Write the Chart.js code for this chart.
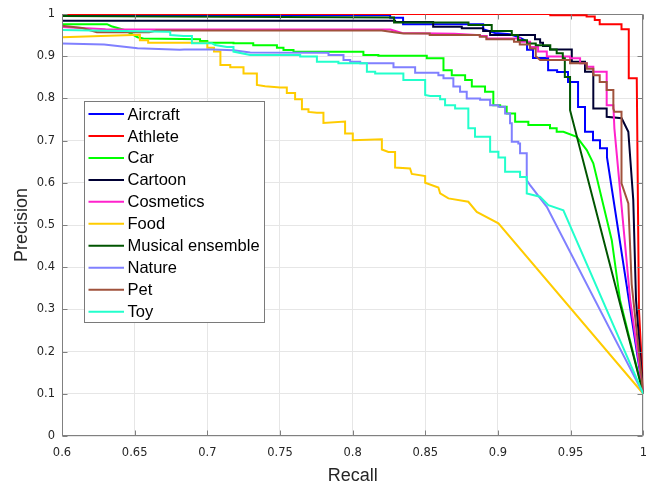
<!DOCTYPE html>
<html>
<head>
<meta charset="utf-8">
<script src="https://cdn.jsdelivr.net/npm/chart.js@4/dist/chart.umd.min.js"></script>
<style>
html,body{margin:0;padding:0;background:#fff;}
canvas{display:block;}
</style>
</head>
<body>
<canvas id="c" width="653" height="487"></canvas>
<script>
// ---- data: [recall, precision] pairs ----
const categories = ['Aircraft','Athlete','Car','Cartoon','Cosmetics','Food','Musical ensemble','Nature','Pet','Toy'];
const seriesColors = ['#0000ff','#ff0000','#00ff00','#000033','#ff22cc','#ffcc00','#005500','#8080ff','#a0523c','#22ffcc'];

const aircraft = [[0.6,0.997],[0.8258,0.997],[0.8258,0.991],[0.8347,0.991],[0.8347,0.976],[0.8898,0.976],[0.8898,0.964],[0.898,0.955],[0.9083,0.952],[0.915,0.944],[0.920,0.935],[0.920,0.915],[0.9241,0.915],[0.9241,0.896],[0.9345,0.896],[0.9345,0.867],[0.9407,0.867],[0.9407,0.8625],[0.9482,0.8625],[0.9482,0.839],[0.9551,0.839],[0.9551,0.7795],[0.9599,0.7795],[0.9599,0.721],[0.9654,0.721],[0.9654,0.701],[0.9702,0.701],[0.9702,0.682],[0.975,0.682],[0.975,0.661],[1,0.1]];
const athlete = [[0.6,1.0],[0.936,1.0],[0.936,0.997],[0.961,0.997],[0.961,0.994],[0.9666,0.994],[0.9666,0.986],[0.970,0.986],[0.970,0.976],[0.985,0.976],[0.985,0.964],[0.990,0.964],[0.990,0.8475],[0.9955,0.8475],[0.997,0.30],[1,0.1]];
const car = [[0.6,0.976],[0.631,0.976],[0.634,0.971],[0.643,0.962],[0.652,0.945],[0.656,0.942],[0.695,0.940],[0.695,0.936],[0.700,0.936],[0.700,0.932],[0.718,0.932],[0.718,0.9305],[0.7316,0.9305],[0.7316,0.926],[0.7479,0.926],[0.7479,0.920],[0.7524,0.920],[0.7524,0.9146],[0.7593,0.9146],[0.7593,0.9106],[0.8074,0.9106],[0.8074,0.903],[0.8177,0.903],[0.8177,0.901],[0.851,0.901],[0.851,0.895],[0.8625,0.895],[0.8625,0.867],[0.8682,0.867],[0.8682,0.855],[0.8774,0.855],[0.8774,0.8435],[0.882,0.8435],[0.882,0.828],[0.8911,0.828],[0.8911,0.816],[0.8968,0.816],[0.8968,0.784],[0.9015,0.784],[0.9015,0.780],[0.906,0.780],[0.906,0.7645],[0.9118,0.7645],[0.9118,0.7446],[0.9209,0.7446],[0.9209,0.737],[0.9358,0.737],[0.9358,0.729],[0.9404,0.729],[0.9404,0.721],[0.945,0.721],[0.9542,0.709],[0.9611,0.6775],[0.9656,0.646],[0.9783,0.464],[0.984,0.322],[1,0.1]];
const cartoon = [[0.6,0.984],[0.8292,0.984],[0.8292,0.981],[0.8554,0.981],[0.8554,0.970],[0.8751,0.970],[0.8751,0.966],[0.8898,0.966],[0.8898,0.960],[0.8946,0.960],[0.8946,0.950],[0.9255,0.950],[0.9255,0.940],[0.929,0.940],[0.929,0.932],[0.931,0.932],[0.931,0.924],[0.9358,0.924],[0.9358,0.916],[0.9508,0.916],[0.9508,0.887],[0.9599,0.887],[0.9599,0.863],[0.9656,0.863],[0.9656,0.776],[0.9748,0.776],[0.9748,0.7565],[0.9851,0.753],[0.9897,0.721],[0.9931,0.559],[0.995,0.322],[1,0.1]];
const cosmetics = [[0.6,0.969],[0.63,0.964],[0.826,0.963],[0.834,0.955],[0.870,0.953],[0.8875,0.950],[0.8875,0.948],[0.8923,0.948],[0.8923,0.942],[0.9152,0.942],[0.9152,0.934],[0.9221,0.934],[0.9221,0.922],[0.9276,0.922],[0.9276,0.911],[0.9336,0.911],[0.9336,0.899],[0.9496,0.899],[0.9496,0.895],[0.9565,0.895],[0.9565,0.883],[0.9611,0.883],[0.9611,0.875],[0.9656,0.875],[0.9656,0.863],[0.9748,0.863],[0.9748,0.784],[0.9794,0.784],[0.9801,0.729],[0.991,0.322],[1,0.1]];
const food = [[0.6,0.945],[0.6536,0.951],[0.6536,0.938],[0.6593,0.938],[0.6593,0.932],[0.700,0.932],[0.700,0.920],[0.7046,0.920],[0.7046,0.911],[0.709,0.911],[0.709,0.879],[0.7158,0.879],[0.7158,0.874],[0.7249,0.874],[0.7249,0.859],[0.7341,0.859],[0.7341,0.832],[0.7398,0.829],[0.7501,0.826],[0.7547,0.826],[0.7547,0.813],[0.7604,0.813],[0.7604,0.798],[0.7651,0.798],[0.7651,0.774],[0.7696,0.774],[0.7696,0.768],[0.7754,0.766],[0.7799,0.766],[0.7799,0.742],[0.7948,0.745],[0.7948,0.717],[0.8001,0.717],[0.8001,0.701],[0.8201,0.703],[0.8201,0.679],[0.8246,0.673],[0.8292,0.673],[0.8292,0.636],[0.8395,0.634],[0.8407,0.621],[0.8499,0.616],[0.8499,0.600],[0.859,0.589],[0.8602,0.575],[0.8659,0.563],[0.8796,0.555],[0.8854,0.531],[0.9003,0.504],[1,0.1]];
const musical = [[0.6,0.995],[0.8285,0.992],[0.8285,0.980],[0.8797,0.980],[0.8797,0.974],[0.8957,0.974],[0.8957,0.960],[0.9095,0.960],[0.9095,0.950],[0.9138,0.950],[0.9138,0.938],[0.920,0.938],[0.920,0.930],[0.926,0.930],[0.926,0.926],[0.936,0.926],[0.936,0.916],[0.9404,0.916],[0.9404,0.907],[0.9446,0.907],[0.9446,0.895],[0.946,0.895],[0.946,0.851],[0.9496,0.851],[0.9496,0.772],[1,0.1]];
const nature = [[0.6,0.930],[0.629,0.928],[0.652,0.919],[0.681,0.915],[0.684,0.916],[0.704,0.916],[0.718,0.914],[0.7295,0.909],[0.7834,0.908],[0.7834,0.903],[0.7937,0.903],[0.7937,0.891],[0.7983,0.891],[0.7983,0.887],[0.8052,0.887],[0.8052,0.883],[0.8281,0.883],[0.8281,0.874],[0.843,0.874],[0.843,0.861],[0.859,0.861],[0.859,0.855],[0.8625,0.855],[0.8625,0.848],[0.8693,0.848],[0.8693,0.828],[0.8739,0.828],[0.8739,0.816],[0.8785,0.816],[0.8785,0.800],[0.8877,0.800],[0.8877,0.797],[0.8946,0.797],[0.8946,0.784],[0.9003,0.784],[0.9003,0.780],[0.9049,0.780],[0.9049,0.7645],[0.9083,0.7645],[0.9083,0.741],[0.9095,0.741],[0.9095,0.697],[0.914,0.697],[0.914,0.693],[0.9152,0.693],[0.9152,0.670],[0.9198,0.670],[0.9198,0.606],[0.9221,0.5945],[0.9336,0.543],[1,0.1]];
const pet = [[0.6,0.972],[0.614,0.967],[0.624,0.957],[0.66,0.957],[0.665,0.961],[0.82,0.961],[0.8285,0.957],[0.835,0.954],[0.853,0.954],[0.853,0.950],[0.8875,0.950],[0.8875,0.946],[0.892,0.946],[0.892,0.940],[0.911,0.940],[0.911,0.934],[0.915,0.934],[0.915,0.928],[0.922,0.928],[0.922,0.918],[0.926,0.918],[0.926,0.900],[0.929,0.891],[0.9496,0.891],[0.9496,0.883],[0.9611,0.883],[0.9611,0.870],[0.9656,0.870],[0.9656,0.855],[0.970,0.855],[0.970,0.839],[0.9748,0.839],[0.9748,0.820],[0.9794,0.820],[0.9794,0.776],[0.9801,0.7685],[0.985,0.7685],[0.985,0.599],[0.9897,0.551],[0.992,0.36],[1,0.1]];
const toy = [[0.6,0.962],[0.6722,0.958],[0.6745,0.958],[0.6745,0.950],[0.6836,0.948],[0.6894,0.948],[0.6894,0.9305],[0.7032,0.9305],[0.7054,0.9265],[0.7135,0.922],[0.718,0.922],[0.718,0.911],[0.7295,0.903],[0.7639,0.903],[0.7639,0.899],[0.7754,0.899],[0.7754,0.887],[0.7902,0.887],[0.7902,0.883],[0.8098,0.883],[0.8098,0.863],[0.8155,0.863],[0.8155,0.859],[0.8349,0.859],[0.8349,0.8435],[0.8499,0.8435],[0.8499,0.808],[0.8533,0.8055],[0.8602,0.8055],[0.8602,0.798],[0.8636,0.798],[0.8636,0.784],[0.8705,0.784],[0.8705,0.776],[0.8796,0.776],[0.8796,0.729],[0.8842,0.729],[0.8842,0.709],[0.8946,0.709],[0.8946,0.6735],[0.9003,0.6735],[0.9003,0.660],[0.9049,0.660],[0.9049,0.626],[0.9152,0.626],[0.9152,0.614],[0.9198,0.614],[0.9198,0.575],[0.9289,0.567],[0.9347,0.547],[0.945,0.535],[1,0.1]];

const seriesValues = [aircraft, athlete, car, cartoon, cosmetics, food, musical, nature, pet, toy];
const xTickLabels = ['0.6','0.65','0.7','0.75','0.8','0.85','0.9','0.95','1'];
const yTickLabels = ['0','0.1','0.2','0.3','0.4','0.5','0.6','0.7','0.8','0.9','1'];
const xTitle = 'Recall';
const yTitle = 'Precision';

function labelFor(list, v){
  const hit = list.find(s => Math.abs(parseFloat(s) - v) < 1e-6);
  return hit === undefined ? '' : hit;
}

const datasets = categories.map((name, i) => ({
  label: name,
  data: seriesValues[i].map(p => ({x: p[0], y: p[1]})),
  borderColor: seriesColors[i],
  backgroundColor: seriesColors[i],
  borderWidth: 2,
  pointRadius: 0,
  fill: false,
  tension: 0,
  order: categories.length - i
}));

const AXIS_COLOR = '#808080';
const TEXT_COLOR = '#262626';

function boxEdges(a){
  return {
    L: Math.round(a.left) + 0.5, R: Math.round(a.right) - 0.5,
    T: Math.round(a.top) + 0.5, B: Math.round(a.bottom) - 0.5
  };
}

const framePlugin = {
  id: 'frame',
  beforeDatasetsDraw(chart) {
    const {ctx, chartArea: a} = chart;
    const {L, R, T, B} = boxEdges(a);
    ctx.save();
    ctx.strokeStyle = AXIS_COLOR;
    ctx.lineWidth = 1;
    ctx.beginPath();
    ctx.rect(L, T, R - L, B - T);
    ctx.stroke();
    ctx.restore();
  },
  afterDatasetsDraw(chart) {
    const {ctx, chartArea: a, scales: {x, y}} = chart;
    const {L, R, T, B} = boxEdges(a);
    ctx.save();
    ctx.strokeStyle = AXIS_COLOR;
    ctx.lineWidth = 1;
    const tl = 5;
    ctx.beginPath();
    x.ticks.forEach(t => {
      const px = Math.round(x.getPixelForValue(t.value)) + 0.5;
      ctx.moveTo(px, B); ctx.lineTo(px, B - tl);
      ctx.moveTo(px, T); ctx.lineTo(px, T + tl);
    });
    y.ticks.forEach(t => {
      const py = Math.round(y.getPixelForValue(t.value)) + 0.5;
      ctx.moveTo(L, py); ctx.lineTo(L + tl, py);
      ctx.moveTo(R, py); ctx.lineTo(R - tl, py);
    });
    ctx.stroke();
    // left & bottom axis lines kept on top like the reference
    ctx.beginPath();
    ctx.moveTo(L, T); ctx.lineTo(L, B); ctx.lineTo(R, B);
    ctx.stroke();

    // legend
    const lx = 84.5, ly = 101.5, lw = 180, lh = 221;
    ctx.fillStyle = '#ffffff';
    ctx.fillRect(lx, ly, lw, lh);
    ctx.strokeStyle = '#7a7a7a';
    ctx.strokeRect(lx, ly, lw, lh);
    ctx.font = '16.5px "Liberation Sans", Arial, sans-serif';
    ctx.textBaseline = 'middle';
    ctx.textAlign = 'left';
    chart.data.datasets.forEach((ds, i) => {
      const cy = 114 + i * 21.96;
      ctx.strokeStyle = ds.borderColor;
      ctx.lineWidth = 2;
      ctx.beginPath();
      ctx.moveTo(88.5, cy); ctx.lineTo(124, cy);
      ctx.stroke();
      ctx.fillStyle = '#000000';
      ctx.fillText(ds.label, 127.5, cy + 1);
    });

    // axis titles
    ctx.fillStyle = TEXT_COLOR;
    ctx.font = '18px "Liberation Sans", Arial, sans-serif';
    ctx.textAlign = 'center';
    ctx.textBaseline = 'middle';
    ctx.fillText(xTitle, (a.left + a.right) / 2, 476);
    ctx.translate(22, (a.top + a.bottom) / 2);
    ctx.rotate(-Math.PI / 2);
    ctx.fillText(yTitle, 0, 0);
    ctx.restore();
  }
};

new Chart(document.getElementById('c'), {
  type: 'line',
  data: { datasets },
  options: {
    responsive: false,
    animation: false,
    devicePixelRatio: 1,
    layout: { padding: { top: 14, right: 9.7, left: 0, bottom: 0 } },
    plugins: { legend: { display: false }, tooltip: { enabled: false } },
    elements: { point: { radius: 0 }, line: { borderJoinStyle: 'miter' } },
    scales: {
      x: {
        type: 'linear', min: 0.6, max: 1,
        afterFit(s) { s.height = 51; s.paddingLeft = 0; s.paddingRight = 0; },
        border: { display: false },
        grid: { color: '#e6e6e6', drawTicks: false, lineWidth: 1 },
        ticks: {
          stepSize: 0.05, padding: 10, autoSkip: false, maxRotation: 0,
          color: TEXT_COLOR,
          font: { family: '"DejaVu Sans", sans-serif', size: 11.5 },
          callback: v => labelFor(xTickLabels, v)
        }
      },
      y: {
        type: 'linear', min: 0, max: 1,
        afterFit(s) { s.width = 62; s.paddingTop = 0; s.paddingBottom = 0; },
        border: { display: false },
        grid: { color: '#e6e6e6', drawTicks: false, lineWidth: 1 },
        ticks: {
          stepSize: 0.1, padding: 7, autoSkip: false,
          color: TEXT_COLOR,
          font: { family: '"DejaVu Sans", sans-serif', size: 11.5 },
          callback: v => labelFor(yTickLabels, v)
        }
      }
    }
  },
  plugins: [framePlugin]
});
</script>
</body>
</html>
